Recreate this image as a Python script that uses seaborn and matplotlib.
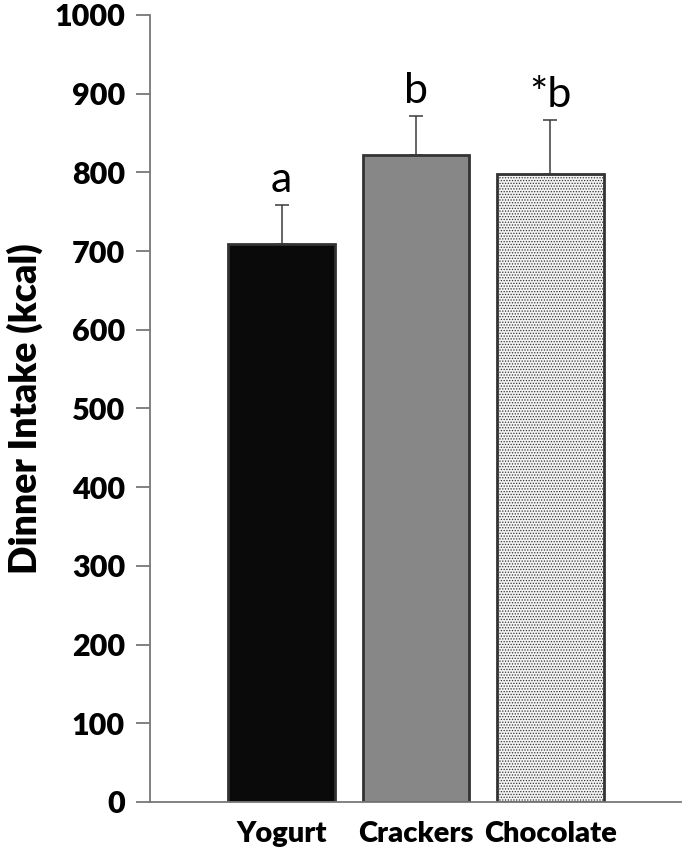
import numpy as np
import pandas as pd
import matplotlib
matplotlib.use('Agg')
import matplotlib.pyplot as plt
import seaborn as sns

# values
snacks = ['Yogurt', 'Crackers', 'Chocolate']
intake = [709, 822, 798]
sem = [50, 50, 69]
letters = ['a', 'b', '*b']
bar_colors = ['#0a0a0a', '#878787', '#f3f3f3']
yticks = list(range(0, 1001, 100))

df = pd.DataFrame({'snack': snacks, 'kcal': intake})

sns.set_theme(style='white')
plt.rcParams['font.family'] = ['Lato', 'DejaVu Sans']
plt.rcParams['text.color'] = 'black'
plt.rcParams['axes.labelcolor'] = 'black'
plt.rcParams['xtick.color'] = 'black'
plt.rcParams['ytick.color'] = 'black'
plt.rcParams['hatch.color'] = '#c8c8c8'
plt.rcParams['hatch.linewidth'] = 0.6

fig = plt.figure(figsize=(6.85, 8.56), dpi=100)
ax = fig.add_axes([0.219, 0.0631, 0.775, 0.9194])

sns.barplot(data=df, x='snack', y='kcal', hue='snack', palette=bar_colors,
            width=0.795, edgecolor='#333333', linewidth=2, legend=False, ax=ax)
ax.patches[2].set_hatch('......')

# one-sided error bars
ax.errorbar(range(len(snacks)), intake, yerr=[np.zeros(len(sem)), sem],
            fmt='none', ecolor='#3a3a3a', elinewidth=1.1, capsize=5, capthick=1.1)

for i, (v, e, lab) in enumerate(zip(intake, sem, letters)):
    ax.annotate(lab, (i, v + e), xytext=(0, 9), textcoords='offset points',
                ha='center', va='baseline', fontsize=31, color='black')

ax.set_ylim(0, 1000)
ax.set_xlim(-0.978, 2.97)
ax.set_yticks(yticks)
ax.set_yticklabels([str(t) for t in yticks], fontsize=22, fontweight='heavy')
ax.set_xticks(range(len(snacks)))
ax.set_xticklabels(snacks, fontsize=21, fontweight='heavy')
ax.set_xlabel('')
ax.set_ylabel('Dinner Intake (kcal)', fontsize=27, fontweight='heavy', labelpad=8)

sns.despine(ax=ax)
for side in ['left', 'bottom']:
    ax.spines[side].set_color('#777777')
    ax.spines[side].set_linewidth(1.3)
ax.tick_params(axis='y', direction='out', length=10, width=1.3, color='#777777',
               labelcolor='black', left=True, pad=8)
ax.tick_params(axis='x', length=0, pad=14, labelcolor='black')

fig.savefig('out.png', dpi=100)
